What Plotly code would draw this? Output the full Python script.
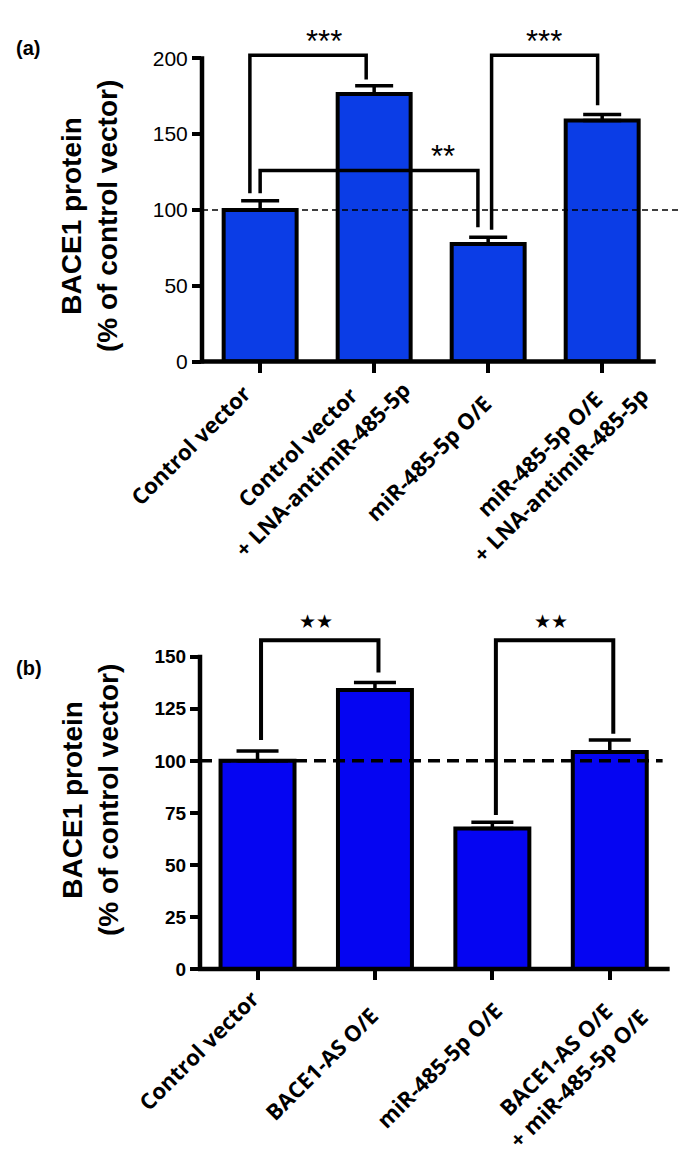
import math
import plotly.graph_objects as go

# ---------------- data: panel (a) ----------------
cats_a = [["Control vector"],
          ["Control vector", "+ LNA-antimiR-485-5p"],
          ["miR-485-5p O/E"],
          ["miR-485-5p O/E", "+ LNA-antimiR-485-5p"]]
vals_a = [100, 176.5, 77.5, 159]
sem_a = [6, 5.5, 4.5, 4]
yticks_a = [0, 50, 100, 150, 200]
# significance brackets (a)
br_a_x0 = [-0.09, 0.0, 2.03]
br_a_x1 = [0.93, 1.91, 2.96]
br_a_top = [202, 126, 202]
br_a_y0 = [111, 111, 87]
br_a_y1 = [186, 88.5, 169]
br_a_lab = ["***", "**", "***"]
br_a_labx = [0.56, 1.6, 2.49]
br_a_laby = [211, 135, 211]

# ---------------- data: panel (b) ----------------
cats_b = [["Control vector"],
          ["BACE1-AS O/E"],
          ["miR-485-5p O/E"],
          ["BACE1-AS O/E", "+ miR-485-5p O/E"]]
vals_b = [100, 134, 67.5, 104.2]
sem_b = [4.7, 3.7, 3.0, 5.8]
yticks_b = [0, 25, 50, 75, 100, 125, 150]
br_b_x0 = [0.03, 2.03]
br_b_x1 = [1.03, 3.03]
br_b_top = [158, 158]
br_b_y0 = [110, 74]
br_b_y1 = [142.5, 113]
br_b_lab = ["\u2605\u2605", "\u2605\u2605"]
br_b_labx = [0.5, 2.5]
br_b_laby = [167, 167]

# ---------------- layout / style ----------------
W, H = 685, 1157
COL_A = "#0b3de6"
COL_B = "#0505f2"
LBL_FONT = 22
LBL_NUDGE = -9  # px, global horizontal correction for the rotated labels

# where the end of each rotated label line sits, relative to its tick (px):
# (dx right of tick, dy below axis line, ends with lowercase glyph?)
lbl_pos_a = [[(-8.7, 25.3, True)],
             [(-15.7, 27.3, True), (37.3, 22.0, True)],
             [(1.7, 33.0, False)],
             [(-0.7, 28.3, False), (47.7, 27.0, True)]]
lbl_pos_b = [[(2.3, 22.7, True)],
             [(2.3, 37.0, False)],
             [(8.3, 32.7, False)],
             [(1.0, 32.7, False), (36.7, 39.3, False)]]

XA_DOM = [202 / W, 678 / W]
XA_RNG = [-0.51, 3.665]
YA_DOM = [1 - 361.5 / H, 1 - 25 / H]
YA_RNG = [0, 222]
XB_DOM = [200 / W, 672 / W]
XB_RNG = [-0.49, 3.53]
YB_DOM = [1 - 969 / H, 1 - 611 / H]
YB_RNG = [0, 172]


def px(u, dom, rng):
    return dom[0] + (u - rng[0]) / (rng[1] - rng[0]) * (dom[1] - dom[0])


fig = go.Figure()

fig.add_trace(go.Bar(
    x=list(range(len(cats_a))), y=vals_a, width=0.64,
    marker=dict(color=COL_A, line=dict(color="black", width=4)),
    error_y=dict(type="data", symmetric=False, array=sem_a, arrayminus=[0] * len(sem_a),
                 color="black", thickness=3.5, width=19),
    xaxis="x", yaxis="y", showlegend=False, hoverinfo="skip"))

fig.add_trace(go.Bar(
    x=list(range(len(cats_b))), y=vals_b, width=0.63,
    marker=dict(color=COL_B, line=dict(color="black", width=4)),
    error_y=dict(type="data", symmetric=False, array=sem_b, arrayminus=[0] * len(sem_b),
                 color="black", thickness=3.5, width=21),
    xaxis="x2", yaxis="y2", showlegend=False, hoverinfo="skip"))

shapes = []
annotations = []

# dashed reference lines at 100
shapes.append(dict(type="line", xref="x", yref="y", x0=XA_RNG[0], x1=XA_RNG[1], y0=100, y1=100,
                   line=dict(color="black", width=1.5, dash="6px,4px"), layer="above"))
shapes.append(dict(type="line", xref="x2", yref="y2", x0=XB_RNG[0], x1=3.45, y0=100, y1=100,
                   line=dict(color="black", width=3.5, dash="12px,7px"), layer="above"))

# axis lines (paper coordinates, so they are not clipped)
for xdom, xrng, ydom, yrng, ymax, xend in [
        (XA_DOM, XA_RNG, YA_DOM, YA_RNG, 200, 3.47),
        (XB_DOM, XB_RNG, YB_DOM, YB_RNG, 150, 3.51)]:
    shapes.append(dict(type="line", xref="paper", yref="paper",
                       x0=xdom[0], x1=xdom[0], y0=ydom[0] - 2 / H, y1=px(ymax, ydom, yrng) + 2 / H,
                       line=dict(color="black", width=4.5), layer="above"))
    shapes.append(dict(type="line", xref="paper", yref="paper",
                       x0=xdom[0] - 2 / W, x1=px(xend, xdom, xrng), y0=ydom[0], y1=ydom[0],
                       line=dict(color="black", width=4.5), layer="above"))

# brackets
for x0, x1, top, y0, y1 in zip(br_a_x0, br_a_x1, br_a_top, br_a_y0, br_a_y1):
    shapes.append(dict(type="path", xref="x", yref="y",
                       path=f"M {x0},{y0} L {x0},{top} L {x1},{top} L {x1},{y1}",
                       line=dict(color="black", width=3.5), layer="above"))
for x0, x1, top, y0, y1 in zip(br_b_x0, br_b_x1, br_b_top, br_b_y0, br_b_y1):
    shapes.append(dict(type="path", xref="x2", yref="y2",
                       path=f"M {x0},{y0} L {x0},{top} L {x1},{top} L {x1},{y1}",
                       line=dict(color="black", width=4), layer="above"))

for t, x, y in zip(br_a_lab, br_a_labx, br_a_laby):
    annotations.append(dict(text=t, x=x, y=y, xref="x", yref="y", showarrow=False,
                            xanchor="center", yanchor="middle",
                            font=dict(family="Arial", size=31, color="black")))
for t, x, y in zip(br_b_lab, br_b_labx, br_b_laby):
    annotations.append(dict(text=t, x=x, y=y, xref="x2", yref="y2", showarrow=False,
                            xanchor="center", yanchor="middle",
                            font=dict(family="DejaVu Sans", size=19, color="black")))

# rotated category labels (one annotation per text line, centred like the original)
S2 = math.sqrt(2)
box_h = 1.362 * LBL_FONT + 4          # rendered annotation box height
cap_off = 2 + (1.069 - 0.714) * LBL_FONT
xh_off = 2 + (1.069 - 0.545) * LBL_FONT
for xref, ydom, cats, poss in [("x", YA_DOM, cats_a, lbl_pos_a), ("x2", YB_DOM, cats_b, lbl_pos_b)]:
    for i, (lines, pl) in enumerate(zip(cats, poss)):
        for text, (dx, dy, lower) in zip(lines, pl):
            t = xh_off if lower else cap_off
            cx = dx + (2.7 - t) / S2
            cy = dy + (-2.7 - t) / S2
            annotations.append(dict(
                text=text, x=i, y=ydom[0], xref=xref, yref="paper",
                xshift=cx + box_h / S2 + LBL_NUDGE, yshift=-cy,
                xanchor="right", yanchor="top", textangle=-45, showarrow=False,
                font=dict(family="Open Sans", size=LBL_FONT, color="black", weight="bold")))

# y-axis titles
for yc in [216, 800]:
    annotations.append(dict(text="BACE1 protein<br>(% of control vector)", x=90 / W, y=1 - yc / H,
                            xref="paper", yref="paper", showarrow=False, textangle=-90,
                            xanchor="center", yanchor="middle",
                            font=dict(family="Arial", size=28, color="black", weight="bold")))
# panel letters
annotations.append(dict(text="(a)", x=28 / W, y=1 - 48 / H, xref="paper", yref="paper",
                        showarrow=False, xanchor="center", yanchor="middle",
                        font=dict(family="Arial", size=20, color="black", weight="bold")))
annotations.append(dict(text="(b)", x=29 / W, y=1 - 668 / H, xref="paper", yref="paper",
                        showarrow=False, xanchor="center", yanchor="middle",
                        font=dict(family="Arial", size=20, color="black", weight="bold")))

xcommon = dict(showline=False, showgrid=False, zeroline=False, ticks="outside", ticklen=10,
               tickwidth=4, tickcolor="black", automargin=False, showticklabels=False)
ycommon = dict(showline=False, showgrid=False, zeroline=False, ticks="outside", ticklen=9,
               tickwidth=4, tickcolor="black", ticklabelstandoff=0, automargin=False)

fig.update_layout(
    width=W, height=H,
    margin=dict(l=0, r=0, t=0, b=0, pad=0),
    paper_bgcolor="white", plot_bgcolor="white",
    showlegend=False,
    xaxis=dict(domain=XA_DOM, range=XA_RNG, anchor="y",
               tickvals=list(range(len(cats_a))), **xcommon),
    yaxis=dict(domain=YA_DOM, range=YA_RNG, anchor="x", tickvals=yticks_a,
               tickfont=dict(family="Arial", size=21, color="black"), **ycommon),
    xaxis2=dict(domain=XB_DOM, range=XB_RNG, anchor="y2",
                tickvals=list(range(len(cats_b))), **xcommon),
    yaxis2=dict(domain=YB_DOM, range=YB_RNG, anchor="x2", tickvals=yticks_b,
                tickfont=dict(family="Arial", size=19, color="black", weight="bold"), **ycommon),
    shapes=shapes, annotations=annotations,
)

fig.write_html("out.html", config={"displayModeBar": False},
               post_script="document.body.style.margin='0px';")
